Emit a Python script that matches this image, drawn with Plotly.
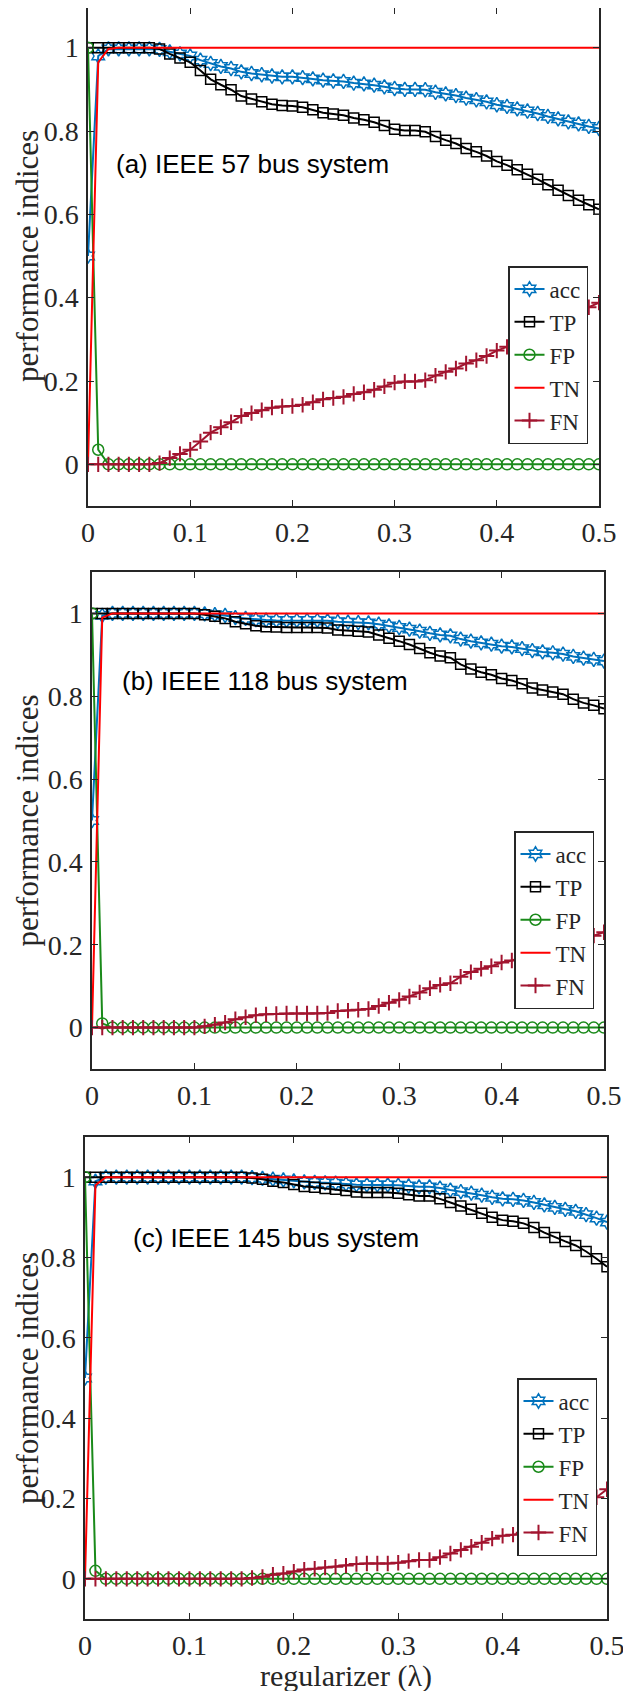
import plotly.graph_objects as go

# regularizer values (lambda)
lam = [round(i * 0.01, 2) for i in range(51)]

# ---------------- (a) IEEE 57 bus system ----------------
acc_a = [0.5, 0.98, 0.997, 0.997, 0.997, 0.997, 0.997, 0.996, 0.99, 0.985,
         0.98, 0.97, 0.962, 0.955, 0.95, 0.942, 0.938, 0.935, 0.932, 0.93,
         0.93, 0.928, 0.925, 0.922, 0.92, 0.919, 0.915, 0.913, 0.91, 0.906,
         0.902, 0.9, 0.9, 0.899, 0.893, 0.889, 0.885, 0.879, 0.875, 0.87,
         0.863, 0.859, 0.853, 0.848, 0.842, 0.835, 0.829, 0.822, 0.817, 0.811,
         0.806]
tp_a = [1.0, 1.0, 1.0, 1.0, 1.0, 1.0, 1.0, 0.997, 0.985, 0.975,
        0.965, 0.945, 0.924, 0.911, 0.899, 0.884, 0.877, 0.870, 0.864, 0.861,
        0.860, 0.857, 0.851, 0.844, 0.841, 0.838, 0.831, 0.827, 0.821, 0.813,
        0.804, 0.801, 0.801, 0.798, 0.787, 0.778, 0.770, 0.758, 0.750, 0.740,
        0.727, 0.718, 0.707, 0.696, 0.684, 0.671, 0.658, 0.645, 0.634, 0.623,
        0.612]
fp_a = [1.0, 0.035] + [0.0] * 49
tn_a = [0.0, 0.965, 0.997] + [1.0] * 48
fn_a = [0, 0, 0, 0, 0, 0, 0, 0.003, 0.015, 0.025,
        0.035, 0.055, 0.076, 0.089, 0.101, 0.116, 0.123, 0.13, 0.136, 0.139,
        0.14, 0.143, 0.149, 0.156, 0.159, 0.162, 0.169, 0.173, 0.179, 0.187,
        0.196, 0.199, 0.199, 0.202, 0.213, 0.222, 0.23, 0.242, 0.25, 0.26,
        0.273, 0.282, 0.293, 0.304, 0.316, 0.329, 0.342, 0.355, 0.366, 0.377,
        0.388]

# ---------------- (b) IEEE 118 bus system ----------------
acc_b = [0.5, 0.995, 1.0, 1.0, 1.0, 1.0, 1.0, 1.0, 1.0, 1.0,
         1.0, 0.999, 0.997, 0.995, 0.99, 0.988, 0.985, 0.984, 0.983, 0.983,
         0.983, 0.983, 0.983, 0.982, 0.98, 0.979, 0.978, 0.977, 0.974, 0.97,
         0.966, 0.962, 0.957, 0.952, 0.948, 0.946, 0.938, 0.933, 0.929, 0.926,
         0.921, 0.919, 0.915, 0.91, 0.907, 0.905, 0.902, 0.896, 0.892, 0.889,
         0.885]
tp_b = [1.0, 1.0, 1.0, 1.0, 1.0, 1.0, 1.0, 1.0, 1.0, 1.0,
        1.0, 0.997, 0.993, 0.988, 0.98, 0.975, 0.97, 0.968, 0.967, 0.966,
        0.966, 0.966, 0.966, 0.965, 0.96, 0.959, 0.957, 0.955, 0.948, 0.94,
        0.933, 0.925, 0.915, 0.905, 0.897, 0.893, 0.877, 0.866, 0.858, 0.852,
        0.843, 0.838, 0.83, 0.82, 0.815, 0.81, 0.805, 0.793, 0.784, 0.778,
        0.77]
fp_b = [1.0, 0.01] + [0.0] * 49
tn_b = [0.0, 0.99] + [1.0] * 49
fn_b = [0, 0, 0, 0, 0, 0, 0, 0, 0, 0,
        0, 0.003, 0.007, 0.012, 0.02, 0.025, 0.03, 0.032, 0.033, 0.034,
        0.034, 0.034, 0.034, 0.035, 0.04, 0.041, 0.043, 0.045, 0.052, 0.06,
        0.067, 0.075, 0.085, 0.095, 0.103, 0.107, 0.123, 0.134, 0.142, 0.148,
        0.157, 0.162, 0.17, 0.18, 0.185, 0.19, 0.195, 0.207, 0.216, 0.222,
        0.23]

# ---------------- (c) IEEE 145 bus system ----------------
acc_c = [0.5, 0.99, 1.0, 1.0, 1.0, 1.0, 1.0, 1.0, 1.0, 1.0,
         1.0, 1.0, 1.0, 1.0, 1.0, 1.0, 0.999, 0.997, 0.995, 0.993,
         0.991, 0.988, 0.987, 0.986, 0.985, 0.983, 0.981, 0.981, 0.981, 0.981,
         0.98, 0.978, 0.976, 0.976, 0.973, 0.968, 0.964, 0.96, 0.955, 0.95,
         0.946, 0.945, 0.942, 0.937, 0.931, 0.925, 0.92, 0.915, 0.907, 0.898,
         0.888]
tp_c = [1.0, 1.0, 1.0, 1.0, 1.0, 1.0, 1.0, 1.0, 1.0, 1.0,
        1.0, 1.0, 1.0, 1.0, 1.0, 1.0, 0.998, 0.995, 0.99, 0.987,
        0.982, 0.977, 0.975, 0.972, 0.97, 0.967, 0.963, 0.962, 0.962, 0.962,
        0.96, 0.956, 0.953, 0.953, 0.946, 0.937, 0.928, 0.92, 0.91, 0.9,
        0.893, 0.89, 0.885, 0.875, 0.862, 0.85, 0.84, 0.83, 0.815, 0.797,
        0.777]
fp_c = [1.0, 0.02] + [0.0] * 49
tn_c = [0.0, 0.98] + [1.0] * 49
fn_c = [0, 0, 0, 0, 0, 0, 0, 0, 0, 0,
        0, 0, 0, 0, 0, 0, 0.002, 0.005, 0.01, 0.013,
        0.018, 0.023, 0.025, 0.028, 0.03, 0.033, 0.037, 0.038, 0.038, 0.038,
        0.04, 0.044, 0.047, 0.047, 0.054, 0.063, 0.072, 0.08, 0.09, 0.1,
        0.107, 0.11, 0.115, 0.125, 0.138, 0.15, 0.16, 0.17, 0.185, 0.203,
        0.223]

panel_titles = ["(a) IEEE 57 bus system", "(b) IEEE 118 bus system",
                "(c) IEEE 145 bus system"]
series_names = ["acc", "TP", "FP", "TN", "FN"]
x_ticks = [0, 0.1, 0.2, 0.3, 0.4, 0.5]
x_ticktext = ["0", "0.1", "0.2", "0.3", "0.4", "0.5"]
y_ticks = [0, 0.2, 0.4, 0.6, 0.8, 1.0]
y_ticktext = ["0", "0.2", "0.4", "0.6", "0.8", "1"]

panels = [
    [acc_a, tp_a, fp_a, tn_a, fn_a],
    [acc_b, tp_b, fp_b, tn_b, fn_b],
    [acc_c, tp_c, fp_c, tn_c, fn_c],
]

# The page has an 8px body margin, so the figure is drawn from (8, 8).
OFF = 8
W, H = 631 - OFF, 1691 - OFF


def px(x):
    return (x - OFF) / W


def py(y):
    return 1 - (y - OFF) / H


# plot boxes in page pixels: (left, right, top, bottom)
boxes = [(88, 599, 6, 506), (92, 604, 572, 1069), (85, 607, 1137, 1619)]
# legend right/top in page pixels
legend_pos = [(588, 266), (594, 831), (597, 1378)]
# annotation anchor in data coordinates
text_pos = [(0.0255, 0.72), (0.027, 0.838), (0.0445, 0.849)]

styles = [
    dict(mode="lines+markers", line=dict(color="#0072BD", width=2),
         marker=dict(symbol="hexagram-open", size=11, color="#0072BD",
                     line=dict(width=1.5, color="#0072BD"))),
    dict(mode="lines+markers", line=dict(color="#000000", width=2),
         marker=dict(symbol="square-open", size=10, color="#000000",
                     line=dict(width=1.5, color="#000000"))),
    dict(mode="lines+markers", line=dict(color="#1A8A1A", width=2),
         marker=dict(symbol="circle-open", size=11, color="#1A8A1A",
                     line=dict(width=1.5, color="#1A8A1A"))),
    dict(mode="lines", line=dict(color="#FF0000", width=2)),
    dict(mode="lines+markers", line=dict(color="#A2142F", width=2),
         marker=dict(symbol="cross-thin-open", size=11, color="#A2142F",
                     line=dict(width=2, color="#A2142F"))),
]

fig = go.Figure()
serif = "Liberation Serif, Times New Roman, serif"
axcol = "#262626"

for p, data in enumerate(panels):
    sfx = "" if p == 0 else str(p + 1)
    leg = "legend" if p == 0 else "legend" + str(p + 1)
    for name, ys, st in zip(series_names, data, styles):
        fig.add_trace(go.Scatter(x=lam, y=ys, name=name, xaxis="x" + sfx,
                                 yaxis="y" + sfx, legend=leg, **st))
    l, r, t, b = boxes[p]
    ytop = 1.1
    if t < OFF:  # clip the part above the visible page
        ytop = 1.1 - (OFF - t) / (b - t) * 1.2
        t = OFF
    common = dict(showline=True, linecolor=axcol, linewidth=1.5, mirror="ticks",
                  ticks="inside", ticklen=6, tickwidth=1.2, tickcolor=axcol,
                  showgrid=False, zeroline=False, automargin=False,
                  tickfont=dict(family=serif, size=28, color=axcol))
    fig.layout["xaxis" + sfx] = dict(
        domain=[px(l), px(r)], range=[0, 0.5], anchor="y" + sfx,
        tickvals=x_ticks, ticktext=x_ticktext, ticklabelstandoff=1, **common)
    fig.layout["yaxis" + sfx] = dict(
        domain=[py(b), py(t)], range=[-0.1, ytop], anchor="x" + sfx,
        tickvals=y_ticks, ticktext=y_ticktext, ticklabelstandoff=2, **common)
    lx, ly = legend_pos[p]
    fig.layout[leg] = dict(
        x=px(lx), y=py(ly), xanchor="right", yanchor="top",
        bgcolor="white", bordercolor=axcol, borderwidth=1.5,
        font=dict(family=serif, size=23, color=axcol),
        itemwidth=30, tracegroupgap=0)
    tx, ty = text_pos[p]
    fig.add_annotation(x=tx, y=ty, xref="x" + sfx, yref="y" + sfx,
                       text=panel_titles[p], showarrow=False,
                       xanchor="left", yanchor="middle",
                       font=dict(family="Liberation Sans, Arial, sans-serif",
                                 size=26, color="#000000"))
    # y-axis title
    fig.add_annotation(x=px(27), y=py((boxes[p][2] + b) / 2), xref="paper",
                       yref="paper", text="performance indices",
                       showarrow=False, textangle=-90,
                       xanchor="center", yanchor="middle",
                       font=dict(family=serif, size=31, color=axcol))

# x-axis title (bottom panel only)
fig.add_annotation(x=px(346), y=py(1676), xref="paper", yref="paper",
                   text="regularizer (λ)", showarrow=False,
                   xanchor="center", yanchor="middle",
                   font=dict(family=serif, size=30, color=axcol))

fig.update_layout(width=W, height=H, margin=dict(l=0, r=0, t=0, b=0),
                  template="none", paper_bgcolor="white",
                  plot_bgcolor="white", showlegend=True)

fig.write_html("out.html")
